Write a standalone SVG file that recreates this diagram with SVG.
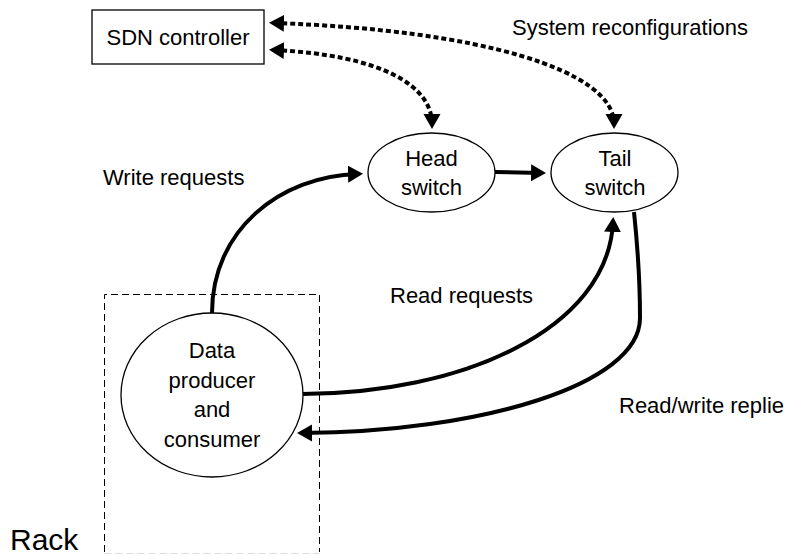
<svg xmlns="http://www.w3.org/2000/svg" width="793" height="555" viewBox="0 0 793 555">
<style>
text{font-family:"Liberation Sans",Arial,sans-serif;font-size:22px;fill:#000}
.node{fill:#fff;stroke:#000;stroke-width:1.3}
.c{text-anchor:middle}
.solid{fill:none;stroke:#000;stroke-width:4}
.dot{fill:none;stroke:#000;stroke-width:4;stroke-dasharray:5 3}
</style>
<defs>
<marker id="ah" markerUnits="userSpaceOnUse" markerWidth="16" markerHeight="18" refX="10" refY="8.5" orient="auto-start-reverse" viewBox="0 0 16 17">
<path d="M0,0 L15,8.5 L0,17 z" fill="#000"/>
</marker>
</defs>
<rect x="0" y="0" width="793" height="555" fill="#fff"/>
<g id="rack">
<path d="M104.5,552 L104.5,294.5 L319.5,294.5 L319.5,552" fill="none" stroke="#000" stroke-width="1" stroke-dasharray="7 4"/>
<path d="M104.5,553.5 L319.5,553.5" fill="none" stroke="#ddd" stroke-width="1" stroke-dasharray="7 4"/>
<text x="10" y="550" style="font-size:30px">Rack</text>
</g>
<g id="connectors">
<path class="dot" d="M274,23 C480,30 614,70 614,124" marker-start="url(#ah)" marker-end="url(#ah)"/>
<path class="dot" d="M274,50 C380,55 432,85 432,124" marker-start="url(#ah)" marker-end="url(#ah)"/>
<path class="solid" d="M495,172 L541,173" marker-end="url(#ah)"/>
<path class="solid" d="M212,313 C212,230 280,176 358,174" marker-end="url(#ah)"/>
<path class="solid" d="M302,394 C460,394 608,330 613,222" marker-end="url(#ah)"/>
<path class="solid" d="M634,212 C638,250 640,290 640,318 C640,385 480,432 302,433" marker-end="url(#ah)"/>
</g>
<g id="sdn">
<rect class="node" x="92" y="10" width="172" height="54"/>
<text class="c" x="178" y="45">SDN controller</text>
</g>
<g id="head">
<ellipse class="node" cx="431.5" cy="172.5" rx="63.5" ry="39.5"/>
<text class="c" x="431.5" y="166">Head</text>
<text class="c" x="431.5" y="195">switch</text>
</g>
<g id="tail">
<ellipse class="node" cx="614.5" cy="172.5" rx="63.5" ry="39.5"/>
<text class="c" x="615" y="166">Tail</text>
<text class="c" x="615" y="195">switch</text>
</g>
<g id="data">
<ellipse class="node" cx="212" cy="395" rx="91" ry="82"/>
<text class="c" x="212" y="358">Data</text>
<text class="c" x="212" y="388">producer</text>
<text class="c" x="212" y="417">and</text>
<text class="c" x="212" y="447">consumer</text>
</g>
<g id="labels">
<text x="512" y="35">System reconfigurations</text>
<text x="103" y="185">Write requests</text>
<text x="390" y="303">Read requests</text>
<text x="619" y="413">Read/write replie</text>
</g>
</svg>
